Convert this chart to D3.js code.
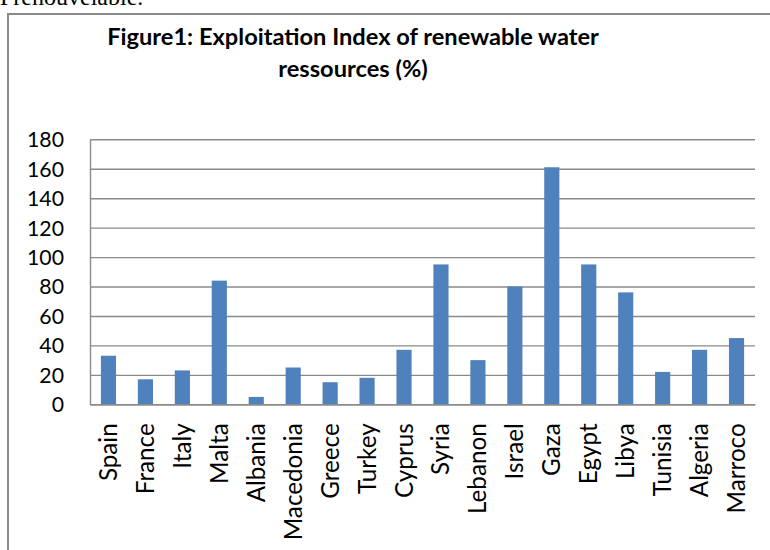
<!DOCTYPE html>
<html>
<head>
<meta charset="utf-8">
<script src="https://cdn.jsdelivr.net/npm/d3@7"></script>
<style>
  html, body { margin: 0; padding: 0; background: #fff; }
  svg { display: block; }
</style>
</head>
<body>
<svg id="chart" width="770" height="550"></svg>
<script>
const categories = ["Spain","France","Italy","Malta","Albania","Macedonia","Greece","Turkey","Cyprus","Syria","Lebanon","Israel","Gaza","Egypt","Libya","Tunisia","Algeria","Marroco"];
const values = [33,17,23,84,5,25,15,18,37,95,30,80,161,95,76,22,37,45];
const yTicks = [0,20,40,60,80,100,120,140,160,180];
const titleLines = ["Figure1: Exploitation Index of renewable water","ressources (%)"];
const topText = "Frenouvelable.";

const svg = d3.select("#chart");
const W = 770, H = 550;
svg.append("rect").attr("width", W).attr("height", H).attr("fill", "#fff");

// fragment of the document text above the chart
svg.append("text").attr("x", 0).attr("y", 5)
  .attr("font-family", "'Liberation Serif', 'Times New Roman', serif")
  .attr("font-size", 24).attr("fill", "#000").text(topText);

// chart frame (only top & left visible)
svg.append("rect").attr("x", 8).attr("y", 14).attr("width", 900).attr("height", 700)
  .attr("fill", "#fff").attr("stroke", "#8a8a8a").attr("stroke-width", 2);

const plot = {left: 90, right: 755, top: 139.3, bottom: 404.3};
const x = d3.scaleBand().domain(categories).range([plot.left, plot.right])
  .paddingInner(0.59).paddingOuter(0.295);
const y = d3.scaleLinear().domain([0, 180]).range([plot.bottom, plot.top]);

const FONT = "Lato, 'Open Sans', sans-serif";

function fitFont(sel, sample, target, base) {
  const t = svg.append("text").attr("font-family", FONT).attr("font-size", base)
    .attr("font-weight", sel).text(sample);
  const w = t.node().getComputedTextLength();
  t.remove();
  return base * target / w;
}

// gridlines + y axis
const yAxis = d3.axisLeft(y).tickValues(yTicks).tickSize(-(plot.right - plot.left))
  .tickSizeOuter(0).tickPadding(26);
const gy = svg.append("g").attr("transform", `translate(${plot.left},0)`).call(yAxis);
gy.selectAll(".tick line").attr("stroke", "#8a8a8a").attr("stroke-width", 1.4);
gy.select(".domain").attr("stroke", "#8a8a8a").attr("stroke-width", 1.4);
const yFont = fitFont("normal", "180", 37, 20);
gy.selectAll(".tick text").attr("font-family", FONT).attr("font-size", yFont)
  .attr("fill", "#000").attr("dy", "0.35em");

// bars
svg.append("g").selectAll("rect").data(categories).join("rect")
  .attr("x", d => x(d)).attr("width", x.bandwidth())
  .attr("y", (d, i) => y(values[i])).attr("height", (d, i) => y(0) - y(values[i]))
  .attr("fill", "#4F81BD");

// x axis
const xAxis = d3.axisBottom(x).tickSize(0).tickSizeOuter(0);
const gx = svg.append("g").attr("transform", `translate(0,${plot.bottom})`).call(xAxis);
gx.select(".domain").attr("stroke", "#8a8a8a").attr("stroke-width", 1.6);
const xFont = fitFont("normal", "Macedonia", 117, 20);
gx.selectAll(".tick text").attr("font-family", FONT).attr("font-size", xFont)
  .attr("fill", "#000").attr("text-anchor", "end")
  .attr("transform", "translate(0,19) rotate(-90)")
  .attr("x", 0).attr("y", 0).attr("dy", "0.35em");

// title
const tFont = fitFont("bold", titleLines[0], 492, 20);
svg.append("g").selectAll("text").data(titleLines).join("text")
  .attr("x", 353).attr("y", (d, i) => 45 + i * 32)
  .attr("text-anchor", "middle").attr("font-family", FONT)
  .attr("font-weight", "bold").attr("font-size", tFont).attr("fill", "#000")
  .text(d => d);
</script>
</body>
</html>
